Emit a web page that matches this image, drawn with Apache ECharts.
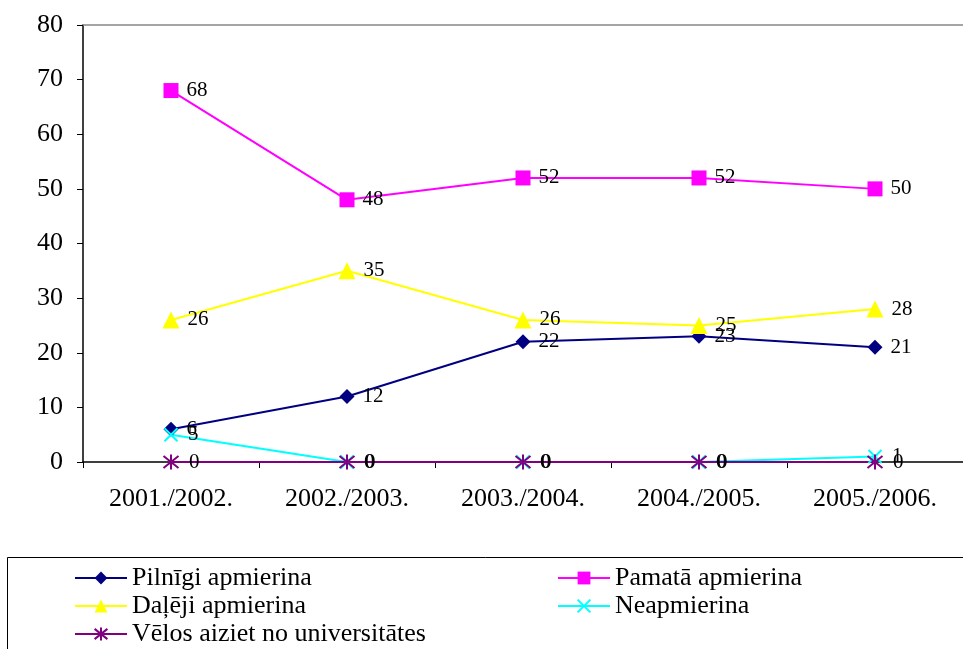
<!DOCTYPE html>
<html><head><meta charset="utf-8">
<script src="https://cdn.jsdelivr.net/npm/echarts@6/dist/echarts.min.js"></script>
<style>html,body{margin:0;padding:0;background:#fff}#c{width:963px;height:649px}</style>
</head><body><div id="c"></div>
<script>
const categories = ['2001./2002.', '2002./2003.', '2003./2004.', '2004./2005.', '2005./2006.'];
const seriesNames = ['Pilnīgi apmierina', 'Pamatā apmierina', 'Daļēji apmierina', 'Neapmierina', 'Vēlos aiziet no universitātes'];
const pilnigi = [6, 12, 22, 23, 21];
const pamata = [68, 48, 52, 52, 50];
const daleji = [26, 35, 26, 25, 28];
const neapmierina = [5, 0, 0, 0, 1];
const velos = [0, 0, 0, 0, 0];
const yTicks = [0, 10, 20, 30, 40, 50, 60, 70, 80];

const font = 'Liberation Serif, Times New Roman, serif';
const xPath = 'path://M0,0L10,10M10,0L0,10';
const starPath = 'path://M1,1L9,9M9,1L1,9M5,0L5,10';

function mk(name, data, color, symbol, size, stroke) {
  return {
    name, type: 'line', data, symbol, symbolSize: size,
    lineStyle: { color, width: 2 },
    itemStyle: stroke ? { color: 'none', borderColor: color, borderWidth: 2 } : { color, borderColor: color, borderWidth: 0 },
    label: { show: true, position: 'right', distance: 8, color: '#000', fontFamily: font, fontSize: 21 },
    animation: false
  };
}

const legendCommon = {
  orient: 'vertical', top: 565, itemGap: 2, itemWidth: 52, itemHeight: 16, padding: 0,
  textStyle: { color: '#000', fontFamily: font, fontSize: 26 }
};

const chart = echarts.init(document.getElementById('c'));
chart.setOption({
  backgroundColor: '#fff',
  animation: false,
  grid: { left: 83, right: 0, top: 25, bottom: 187 },
  xAxis: [{
    type: 'category', data: categories, boundaryGap: true,
    axisLine: { lineStyle: { color: '#000', width: 1.5 } },
    axisTick: { show: true, length: 6, lineStyle: { color: '#000' } },
    axisLabel: { color: '#000', fontFamily: font, fontSize: 26, margin: 24 }
  }, {
    type: 'category', data: categories, position: 'top',
    axisLine: { show: true, lineStyle: { color: '#888', width: 1.5 } },
    axisTick: { show: false }, axisLabel: { show: false }
  }],
  yAxis: {
    type: 'value', min: yTicks[0], max: yTicks[yTicks.length - 1], interval: 10,
    axisLine: { show: true, lineStyle: { color: '#000', width: 1.5 } },
    axisTick: { show: true, length: 6, lineStyle: { color: '#000' } },
    splitLine: { show: false },
    axisLabel: { color: '#000', fontFamily: font, fontSize: 26, margin: 20 }
  },
  legend: [
    Object.assign({ data: [seriesNames[0], seriesNames[2], seriesNames[4]], left: 74 }, legendCommon),
    Object.assign({ data: [seriesNames[1], seriesNames[3]], left: 557 }, legendCommon)
  ],
  graphic: [{
    type: 'rect', left: 5, top: 555, silent: true,
    shape: { width: 975, height: 120 },
    style: { fill: 'none', stroke: '#000', lineWidth: 1 }
  }],
  series: [
    mk(seriesNames[0], pilnigi, '#000080', 'diamond', 15, false),
    mk(seriesNames[1], pamata, '#FF00FF', 'rect', 15, false),
    mk(seriesNames[2], daleji, '#FFFF00', 'triangle', 17, false),
    mk(seriesNames[3], neapmierina, '#00FFFF', xPath, 13, true),
    mk(seriesNames[4], velos, '#800080', starPath, 15, true)
  ]
});
</script></body></html>
